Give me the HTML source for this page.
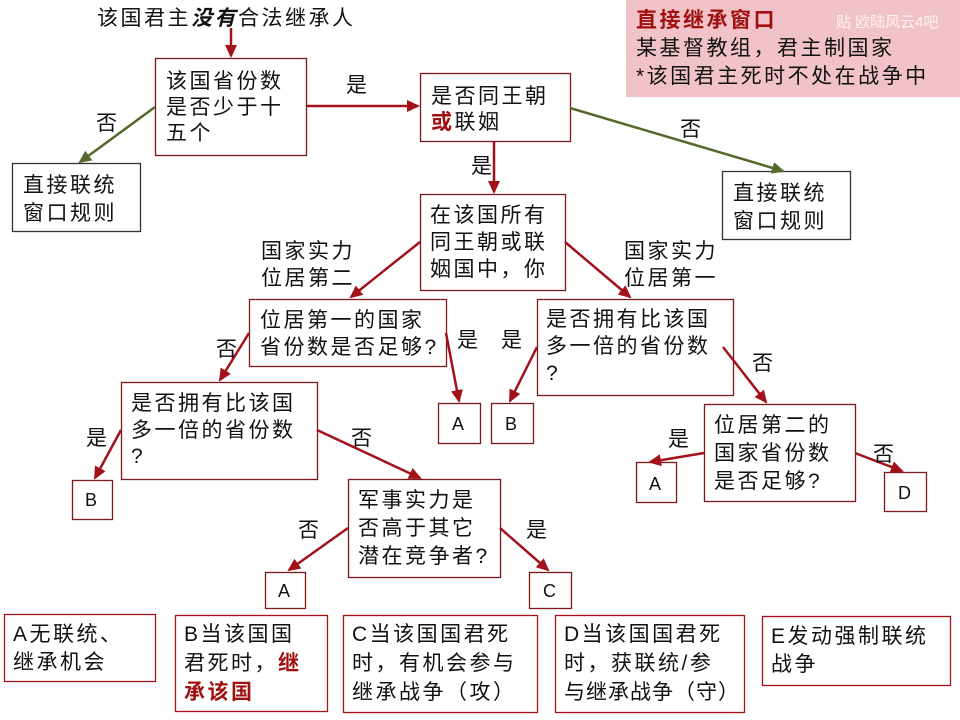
<!DOCTYPE html>
<html><head><meta charset="utf-8"><style>
html,body{margin:0;padding:0;background:#fff;}
svg{display:block;}
text{font-family:"Liberation Sans","Noto Sans CJK SC","WenQuanYi Zen Hei",sans-serif;font-size:21px;letter-spacing:2.5px;fill:#111;}
.s{font-size:18px;letter-spacing:0;}
</style></head><body>
<svg width="960" height="720" viewBox="0 0 960 720" xmlns="http://www.w3.org/2000/svg">
<defs>
<marker id="r" markerWidth="14" markerHeight="14" refX="11" refY="6" orient="auto" markerUnits="userSpaceOnUse"><path d="M0,0 L13,6 L0,12 z" fill="#a3121a"/></marker>
<marker id="g" markerWidth="14" markerHeight="14" refX="11" refY="6" orient="auto" markerUnits="userSpaceOnUse"><path d="M0,0 L13,6 L0,12 z" fill="#55692a"/></marker>
</defs>
<rect x="626" y="0" width="334" height="97" fill="#f1c3c8"/>
<text x="636" y="27" style="fill:#a01010;font-weight:bold">直接继承窗口</text>
<text x="836" y="27" class="s" style="fill:#fff;opacity:.8;font-size:15px">贴 欧陆风云4吧</text>
<text x="636" y="55">某基督教组，君主制国家</text>
<text x="636" y="83">*该国君主死时不处在战争中</text>

<text x="97" y="25">该国君主<tspan font-style="italic" font-weight="bold">没有</tspan>合法继承人</text>

<g fill="#fff" stroke="#7a1a1a" stroke-width="1.3">
<rect x="155.5" y="58.5" width="151" height="97"/>
<rect x="420.5" y="73.5" width="150" height="68"/>
<rect x="12.5" y="163.5" width="128" height="68" stroke="#333"/>
<rect x="722.5" y="171.5" width="128" height="68" stroke="#333"/>
<rect x="420.5" y="194.5" width="145" height="96"/>
<rect x="249.5" y="299.5" width="197" height="67"/>
<rect x="121.5" y="382.5" width="196" height="97"/>
<rect x="537.5" y="299.5" width="196" height="96"/>
<rect x="704.5" y="404.5" width="151" height="97"/>
<rect x="348.5" y="479.5" width="152" height="98"/>
<rect x="438.5" y="403.5" width="42" height="40"/>
<rect x="491.5" y="403.5" width="42" height="40"/>
<rect x="72.5" y="480.5" width="40" height="39"/>
<rect x="265.5" y="572.5" width="40" height="36"/>
<rect x="529.5" y="572.5" width="42" height="36"/>
<rect x="636.5" y="462.5" width="40" height="40"/>
<rect x="884.5" y="472.5" width="42" height="39"/>
<rect x="4.5" y="614.5" width="151" height="67" stroke="#a3121a"/>
<rect x="175.5" y="615.5" width="152" height="96" stroke="#a3121a"/>
<rect x="343.5" y="615.5" width="194" height="97" stroke="#a3121a"/>
<rect x="555.5" y="615.5" width="189" height="97" stroke="#a3121a"/>
<rect x="762.5" y="616.5" width="188" height="69" stroke="#a3121a"/>
</g>

<g stroke="#a3121a" stroke-width="2.5" fill="none" marker-end="url(#r)">
<line x1="231" y1="28" x2="231" y2="56"/>
<line x1="306" y1="106" x2="418" y2="106"/>
<line x1="494" y1="141" x2="494" y2="192"/>
<line x1="420" y1="242" x2="351" y2="297"/>
<line x1="565" y1="242" x2="630" y2="297"/>
<line x1="249" y1="333" x2="220" y2="380"/>
<line x1="446" y1="333" x2="459" y2="401"/>
<line x1="537" y1="347" x2="510" y2="401"/>
<line x1="723" y1="347" x2="766" y2="402"/>
<line x1="121" y1="430" x2="95" y2="478"/>
<line x1="317" y1="430" x2="420" y2="478"/>
<line x1="348" y1="528" x2="289" y2="570"/>
<line x1="500" y1="528" x2="548" y2="570"/>
<line x1="704" y1="453" x2="650" y2="462"/>
<line x1="855" y1="453" x2="902" y2="471"/>
</g>
<g stroke="#55692a" stroke-width="2.5" fill="none" marker-end="url(#g)">
<line x1="155" y1="107" x2="80" y2="162"/>
<line x1="570" y1="108" x2="783" y2="171"/>
</g>

<text x="166" y="88">该国省份数</text>
<text x="166" y="114">是否少于十</text>
<text x="166" y="140">五个</text>
<text x="431" y="103">是否同王朝</text>
<text x="431" y="129"><tspan style="fill:#a01010;font-weight:bold">或</tspan>联姻</text>
<text x="23" y="192">直接联统</text>
<text x="23" y="220">窗口规则</text>
<text x="733" y="200">直接联统</text>
<text x="733" y="228">窗口规则</text>
<text x="430" y="222">在该国所有</text>
<text x="430" y="249">同王朝或联</text>
<text x="430" y="276">姻国中，你</text>
<text x="260" y="327">位居第一的国家</text>
<text x="260" y="354">省份数是否足够?</text>
<text x="131" y="410">是否拥有比该国</text>
<text x="131" y="437">多一倍的省份数</text>
<text x="131" y="463">?</text>
<text x="546" y="326">是否拥有比该国</text>
<text x="546" y="353">多一倍的省份数</text>
<text x="546" y="380">?</text>
<text x="714" y="432">位居第二的</text>
<text x="714" y="460">国家省份数</text>
<text x="714" y="488">是否足够?</text>
<text x="358" y="507">军事实力是</text>
<text x="358" y="535">否高于其它</text>
<text x="358" y="563">潜在竞争者?</text>

<text x="452" y="430" class="s">A</text>
<text x="505" y="430" class="s">B</text>
<text x="85" y="506" class="s">B</text>
<text x="278" y="597" class="s">A</text>
<text x="543" y="597" class="s">C</text>
<text x="649" y="490" class="s">A</text>
<text x="898" y="499" class="s">D</text>

<text x="346" y="92">是</text>
<text x="96" y="130">否</text>
<text x="680" y="136">否</text>
<text x="471" y="173">是</text>
<text x="261" y="258">国家实力</text>
<text x="261" y="285">位居第二</text>
<text x="624" y="258">国家实力</text>
<text x="624" y="285">位居第一</text>
<text x="216" y="356">否</text>
<text x="457" y="347">是</text>
<text x="501" y="347">是</text>
<text x="752" y="370">否</text>
<text x="86" y="445">是</text>
<text x="351" y="445">否</text>
<text x="298" y="537">否</text>
<text x="526" y="537">是</text>
<text x="668" y="446">是</text>
<text x="873" y="461">否</text>

<text x="13" y="641">A无联统、</text>
<text x="13" y="669">继承机会</text>
<text x="184" y="641">B当该国国</text>
<text x="184" y="670">君死时，<tspan style="fill:#a01010;font-weight:bold">继</tspan></text>
<text x="184" y="699" style="fill:#a01010;font-weight:bold">承该国</text>
<text x="352" y="641">C当该国国君死</text>
<text x="352" y="670">时，有机会参与</text>
<text x="352" y="699">继承战争（攻）</text>
<text x="564" y="641">D当该国国君死</text>
<text x="564" y="670">时，获联统/参</text>
<text x="564" y="699" style="letter-spacing:1px">与继承战争（守）</text>
<text x="771" y="643">E发动强制联统</text>
<text x="771" y="671">战争</text>
</svg>
</body></html>
